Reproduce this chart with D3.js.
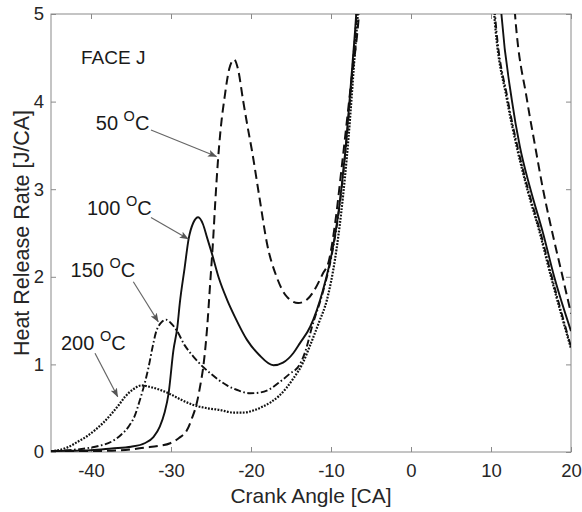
<!DOCTYPE html>
<html>
<head>
<meta charset="utf-8">
<script src="https://cdn.jsdelivr.net/npm/d3@7"></script>
<style>
  html, body { margin: 0; padding: 0; background: #fff; }
  svg { display: block; font-family: "Liberation Sans", Arial, Helvetica, sans-serif; }
</style>
</head>
<body>
<svg id="chart" width="582" height="512"></svg>
<script>
// Heat release rate traces, [crank angle (CA), HRR (J/CA)]; null marks the off-scale main peak
const hrr50 = [
  [-45,0.01],[-42,0.01],[-39,0.012],[-37.4,0.015],[-35,0.03],[-33.3,0.05],[-31.5,0.07],[-30.1,0.10],
  [-29,0.16],[-28,0.25],[-27.4,0.38],[-26.8,0.55],[-26.3,0.78],[-26,0.95],[-25.5,1.4],[-25.1,1.93],
  [-24.75,2.40],[-24.45,2.88],[-24.15,3.3],[-23.8,3.68],[-23.3,4.05],[-22.7,4.38],[-22.1,4.48],
  [-21.6,4.36],[-21,4.02],[-20.4,3.7],[-19.9,3.45],[-18.9,2.88],[-18,2.38],[-16.8,2.0],[-15.5,1.77],
  [-14.1,1.70],[-13,1.74],[-12.2,1.83],[-11,2.04],[-10.3,2.17],[-9.5,2.6],[-8.6,3.3],[-7.5,4.2],
  [-6.5,5.0],[-5.8,6.0],
  [2,null],
  [12.3,6.0],[13.0,5.0],[14.5,4.02],[15.5,3.5],[16.5,3.0],[17.75,2.47],[18.9,2.02],[20,1.58]
];
const hrr100 = [
  [-45,0.01],[-42,0.015],[-40,0.02],[-37.4,0.04],[-35,0.06],[-33.3,0.10],[-32.2,0.17],[-31.4,0.29],
  [-30.8,0.45],[-30.3,0.67],[-29.7,1.16],[-29.2,1.43],[-28.9,1.70],[-28.3,2.1],[-27.8,2.43],
  [-27.2,2.62],[-26.6,2.68],[-26,2.6],[-25.5,2.45],[-24.9,2.27],[-24,1.98],[-23,1.74],[-22,1.54],
  [-20.5,1.28],[-19,1.11],[-17.2,0.99],[-16,1.02],[-14.7,1.13],[-13.9,1.24],[-12.6,1.43],
  [-11,1.85],[-9.9,2.27],[-9,2.78],[-8,3.65],[-7.3,4.45],[-6.85,5.0],[-6.3,6.0],
  [2,null],
  [10.6,6.0],[11.3,5.0],[12.6,4.02],[13.6,3.49],[14.9,3.01],[16.5,2.5],[17.9,2.0],[20,1.38]
];
const hrr150 = [
  [-45,0.01],[-43,0.02],[-40.75,0.04],[-39,0.07],[-37.4,0.12],[-36.2,0.2],[-35.3,0.29],[-34.5,0.42],
  [-33.9,0.59],[-33.3,0.78],[-32.8,0.97],[-32.3,1.2],[-31.9,1.36],[-31.2,1.48],[-30.6,1.51],
  [-30,1.47],[-29.3,1.39],[-28.3,1.22],[-27.2,1.09],[-26.1,0.98],[-25.1,0.90],[-24,0.82],[-23,0.76],
  [-21.5,0.70],[-20.1,0.67],[-18.8,0.68],[-17.6,0.72],[-16.4,0.80],[-15.2,0.89],[-13.9,1.0],
  [-13.2,1.15],[-12.4,1.42],[-11,1.83],[-9.9,2.25],[-9,2.76],[-8,3.62],[-7.25,4.45],[-6.8,5.0],
  [-6.2,6.0],
  [2,null],
  [9.8,6.0],[10.5,5.0],[12.1,4.02],[13.3,3.49],[14.6,3.01],[16.2,2.5],[17.6,2.0],[20,1.2]
];
const hrr200 = [
  [-45,0.01],[-44.1,0.02],[-43,0.05],[-41.6,0.12],[-40.5,0.18],[-39.5,0.25],[-38.4,0.34],
  [-37.4,0.44],[-36.5,0.54],[-35.75,0.63],[-34.8,0.71],[-33.7,0.76],[-32.5,0.74],[-31.4,0.71],
  [-30.3,0.67],[-28.8,0.60],[-27.3,0.54],[-25.5,0.50],[-23.9,0.48],[-22.2,0.45],[-21,0.45],
  [-19.5,0.48],[-18.5,0.52],[-17.5,0.57],[-16.5,0.64],[-14.7,0.84],[-13.5,1.02],[-12.6,1.22],
  [-11.5,1.48],[-10.5,1.74],[-9.5,2.2],[-8.7,2.75],[-7.8,3.6],[-7.1,4.45],[-6.65,5.0],[-6.1,6.0],
  [2,null],
  [9.7,6.0],[10.4,5.0],[12.0,4.02],[13.2,3.49],[14.5,3.01],[16.1,2.5],[17.5,2.0],[20,1.18]
];

const seriesNames = ["50", "100", "150", "200"];
const xTickValues = [-40, -30, -20, -10, 0, 10, 20];
const yTickValues = [0, 1, 2, 3, 4, 5];
const xDomain = [-45, 20];
const yDomain = [0, 5];
const xLabel = "Crank Angle [CA]";
const yLabel = "Heat Release Rate [J/CA]";
const panelTitle = "FACE J";

// Temperature call-outs: label anchor and arrow from/to, in (CA, J/CA)
const calloutTemps = ["50", "100", "150", "200"];
const calloutText = [[-39.4, 3.676], [-40.5, 2.705], [-42.56, 2.001], [-43.75, 1.164]];
const calloutFrom = [[-32.5, 3.676], [-32.5, 2.677], [-34.71, 1.944], [-39.5, 1.127]];
const calloutTo = [[-24.31, 3.373], [-27.84, 2.432], [-31.59, 1.487], [-36.66, 0.631]];

// ---- layout ----
const plot = { left: 51, right: 571, top: 14, bottom: 452 };
const svg = d3.select("#chart");
const fontFamily = '"Liberation Sans", Arial, Helvetica, sans-serif';

const x = d3.scaleLinear().domain(xDomain).range([plot.left, plot.right]);
const y = d3.scaleLinear().domain(yDomain).range([plot.bottom, plot.top]);

const axisColor = "#8a8a8a";
const textColor = "#262626";

svg.append("defs").append("clipPath").attr("id", "plot-clip")
  .append("rect")
  .attr("x", plot.left).attr("y", plot.top)
  .attr("width", plot.right - plot.left).attr("height", plot.bottom - plot.top);

svg.select("defs").append("marker")
  .attr("id", "arrowhead")
  .attr("markerUnits", "userSpaceOnUse")
  .attr("markerWidth", 9).attr("markerHeight", 7)
  .attr("refX", 8.5).attr("refY", 3.5)
  .attr("orient", "auto")
  .append("path")
  .attr("d", "M0,0 L9,3.5 L0,7 L2,3.5 Z")
  .attr("fill", "#555");

// ---- axes (ticks pointing inward on all four sides) ----
function styleAxis(g) {
  g.attr("font-family", fontFamily).attr("font-size", 18.5);
  g.select(".domain").remove();
  g.selectAll(".tick line").attr("stroke", axisColor).attr("stroke-width", 1);
  g.selectAll(".tick text").attr("fill", textColor);
}

// plain hyphen for negative tick values
const intFmt = v => String(Math.round(v));

svg.append("g")
  .attr("transform", `translate(0,${plot.bottom})`)
  .call(d3.axisBottom(x).tickValues(xTickValues).tickFormat(intFmt)
    .tickSize(-5).tickSizeOuter(0).tickPadding(12))
  .call(styleAxis);

svg.append("g")
  .attr("transform", `translate(0,${plot.top})`)
  .call(d3.axisTop(x).tickValues(xTickValues).tickSize(-5).tickSizeOuter(0).tickFormat(""))
  .call(styleAxis);

svg.append("g")
  .attr("transform", `translate(${plot.left},0)`)
  .call(d3.axisLeft(y).tickValues(yTickValues).tickFormat(intFmt)
    .tickSize(-5).tickSizeOuter(0).tickPadding(7))
  .call(styleAxis);

svg.append("g")
  .attr("transform", `translate(${plot.right},0)`)
  .call(d3.axisRight(y).tickValues(yTickValues).tickSize(-5).tickSizeOuter(0).tickFormat(""))
  .call(styleAxis);

svg.append("rect")
  .attr("x", plot.left).attr("y", plot.top)
  .attr("width", plot.right - plot.left).attr("height", plot.bottom - plot.top)
  .attr("fill", "none").attr("stroke", axisColor).attr("stroke-width", 1);

// ---- axis titles ----
svg.append("text")
  .attr("x", (plot.left + plot.right) / 2).attr("y", 503)
  .attr("text-anchor", "middle").attr("fill", textColor)
  .style("font-size", "21px").text(xLabel);

svg.append("text")
  .attr("transform", `translate(29,${(plot.top + plot.bottom) / 2}) rotate(-90)`)
  .attr("text-anchor", "middle").attr("fill", textColor)
  .style("font-size", "21.5px").text(yLabel);

// ---- traces ----
const line = d3.line()
  .defined(d => d[1] !== null)
  .x(d => x(d[0]))
  .y(d => y(d[1]))
  .curve(d3.curveMonotoneX);

const traces = [hrr50, hrr100, hrr150, hrr200];
const dashes = ["9,5", null, "7,2.5,1.6,2.5", "1.8,1.4"];
const widths = [2, 1.9, 1.9, 2.2];

const traceGroup = svg.append("g").attr("clip-path", "url(#plot-clip)");
traces.forEach((data, i) => {
  traceGroup.append("path")
    .datum(data)
    .attr("class", "trace-" + seriesNames[i])
    .attr("fill", "none")
    .attr("stroke", "#111")
    .attr("stroke-width", widths[i])
    .attr("stroke-dasharray", dashes[i])
    .attr("d", line);
});

// ---- panel title and temperature call-outs ----
svg.append("text")
  .attr("x", x(-41.25)).attr("y", y(4.43))
  .attr("fill", "#1a1a1a").style("font-size", "19px")
  .text(panelTitle);

calloutTemps.forEach((t, i) => {
  svg.append("line")
    .attr("x1", x(calloutFrom[i][0])).attr("y1", y(calloutFrom[i][1]))
    .attr("x2", x(calloutTo[i][0])).attr("y2", y(calloutTo[i][1]))
    .attr("stroke", "#666").attr("stroke-width", 1.2)
    .attr("marker-end", "url(#arrowhead)");

  const label = svg.append("text")
    .attr("x", x(calloutText[i][0])).attr("y", y(calloutText[i][1]))
    .attr("fill", "#1a1a1a").style("font-size", "20px");
  label.append("tspan").text(t + " ");
  label.append("tspan").attr("dy", -9).style("font-size", "14.5px").text("O");
  label.append("tspan").attr("dy", 9).text("C");
});
</script>
</body>
</html>
